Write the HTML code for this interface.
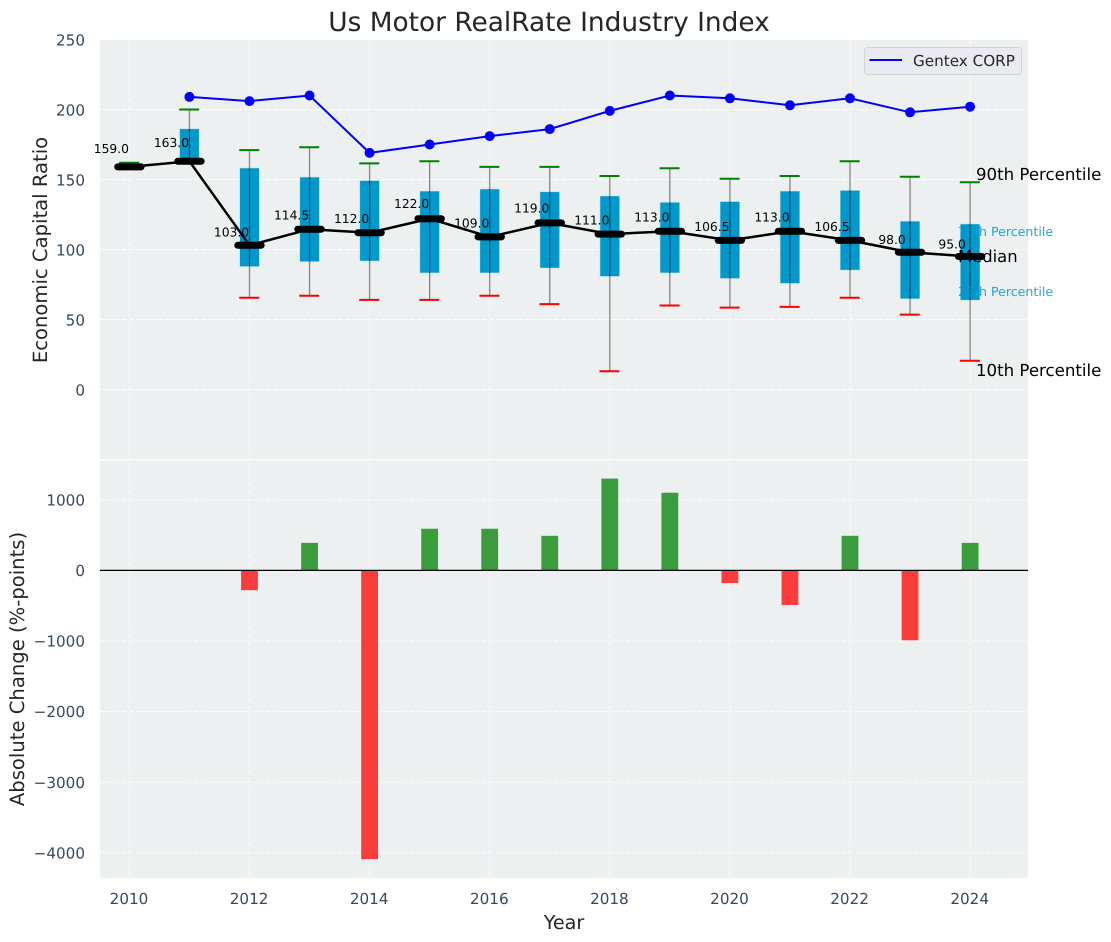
<!DOCTYPE html>
<html lang="en">
<head>
<meta charset="utf-8">
<title>Us Motor RealRate Industry Index</title>
<style>
html,body{margin:0;padding:0;background:#fff;width:1111px;height:942px;overflow:hidden}
svg{display:block;text-rendering:geometricPrecision}
text{font-family:"DejaVu Sans","Liberation Sans",sans-serif}
</style>
</head>
<body>
<svg id="chart" width="1111" height="942" viewBox="0 0 1111 942" xmlns="http://www.w3.org/2000/svg">
  <rect x="100" y="40" width="928" height="419" fill="#ecf0f1"/>
  <rect x="100" y="460.5" width="928" height="417.5" fill="#ecf0f1"/>
  <g id="grid"></g>
  <g id="bars"></g>
  <line x1="100" x2="1028" y1="570.4" y2="570.4" stroke="#000" stroke-width="1.2"/>
  <g id="boxes"></g>
  <g id="series"></g>
  <g id="ticks"></g>
  <g id="values"></g>

  <text x="549" y="31" text-anchor="middle" font-size="26.4px" fill="#262626">Us Motor RealRate Industry Index</text>
  <text transform="translate(47,250) rotate(-90)" text-anchor="middle" font-size="19.6px" fill="#262626">Economic Capital Ratio</text>
  <text transform="translate(24,669) rotate(-90)" text-anchor="middle" font-size="19.6px" fill="#262626">Absolute Change (%-points)</text>
  <text x="564" y="929" text-anchor="middle" font-size="19.2px" fill="#262626">Year</text>

  <g>
    <rect x="864.5" y="47.5" width="157" height="27" rx="3" fill="#eaeaf2" stroke="#d2d3d6" stroke-width="1"/>
    <line x1="869.5" x2="902" y1="60" y2="60" stroke="#0000ff" stroke-width="2"/>
    <text x="913" y="66" font-size="15.2px" fill="#262626">Gentex CORP</text>
  </g>

  <g>
    <text x="976" y="180" font-size="16.6px" fill="#000">90th Percentile</text>
    <text x="958" y="236" font-size="12.6px" fill="#0099cc" opacity="0.85">75th Percentile</text>
    <text x="958" y="262" font-size="16.4px" fill="#000">Median</text>
    <text x="958" y="296" font-size="12.6px" fill="#0099cc" opacity="0.85">25th Percentile</text>
    <text x="976" y="376" font-size="16.6px" fill="#000">10th Percentile</text>
  </g>
</svg>
<script>
const years = [2010,2011,2012,2013,2014,2015,2016,2017,2018,2019,2020,2021,2022,2023,2024];
const p90 = [162,200,171,173,161.5,163,159,159,152.5,158,150.5,152.5,163,152,148];
const p75 = [159,186,158,151.5,149,141.5,143,141,138,133.5,134,141.5,142,120,118];
const medians = [159,163,103,114.5,112,122,109,119,111,113,106.5,113,106.5,98,95];
const p25 = [159,163,88,91.5,92,83.5,83.5,87,81,83.5,79.5,76,85.5,65,64];
const p10 = [159,163,65.5,67,64,64,67,61,13,60,58.5,59,65.5,53.5,20.5];
const companyYears = [2011,2012,2013,2014,2015,2016,2017,2018,2019,2020,2021,2022,2023,2024];
const companyValues = [209,206,210,169,175,181,186,199,210,208,203,208,198,202];
const changeYears = [2012,2013,2014,2015,2016,2017,2018,2019,2020,2021,2022,2023,2024];
const changeValues = [-280,390,-4090,590,590,490,1300,1100,-180,-490,490,-990,390];
const xTickLabels = [2010,2012,2014,2016,2018,2020,2022,2024];
const topTickLabels = [0,50,100,150,200,250];
const bottomTickLabels = [-4000,-3000,-2000,-1000,0,1000];

const NS = 'http://www.w3.org/2000/svg';
const xScale = v => 129.4 + (v - 2010) * 60.05;
const yTop = v => 389.5 - v * 1.4;
const yBottom = v => 570.4 - v * 0.0706;

function add(parent, tag, attrs, content) {
  const el = document.createElementNS(NS, tag);
  for (const k in attrs) el.setAttribute(k, attrs[k]);
  if (content !== undefined) el.textContent = content;
  document.getElementById(parent).appendChild(el);
  return el;
}
const gridStyle = {stroke:'#ffffff','stroke-width':1,'stroke-dasharray':'5 2.2','stroke-opacity':0.85};

xTickLabels.forEach(v => {
  const a = add('grid','line',Object.assign({x1:xScale(v),x2:xScale(v),y1:40,y2:459},gridStyle));
  
  
  const b = add('grid','line',Object.assign({x1:xScale(v),x2:xScale(v),y1:460.5,y2:878},gridStyle));
  
  
  const t = add('ticks','text',{x:xScale(v)-0.4,y:904,'text-anchor':'middle','font-size':'15.2px',fill:'#34495e'},String(v));
  
  
});
topTickLabels.forEach(v => {
  const g = add('grid','line',Object.assign({x1:100,x2:1028,y1:yTop(v),y2:yTop(v)},gridStyle));
  
  
  const t = add('ticks','text',{x:85,y:yTop(v)+5.8,'text-anchor':'end','font-size':'15.2px',fill:'#34495e'},String(v));
  
  
});
bottomTickLabels.forEach(v => {
  const g = add('grid','line',Object.assign({x1:100,x2:1028,y1:yBottom(v),y2:yBottom(v)},gridStyle));
  
  
  const t = add('ticks','text',{x:85,y:yBottom(v)+5.6,'text-anchor':'end','font-size':'15.2px',fill:'#34495e'},String(v).replace('-','\u2212'));
  
  
});

changeYears.forEach((yr,i) => {
  const v = changeValues[i];
  const y0 = yBottom(0), y1 = yBottom(v);
  const r = add('bars','rect',{x:xScale(yr)-8.4,y:Math.min(y0,y1),width:16.8,height:Math.abs(y1-y0),fill:v>=0?'#008000':'#ff0000','fill-opacity':0.75});
  
  
});

years.forEach((yr,i) => {
  const x = xScale(yr);
  const h = yTop(p25[i]) - yTop(p75[i]);
  if (h > 0) {
    const box = add('boxes','rect',{x:x-9.5,y:yTop(p75[i]),width:19,height:h,fill:'#0099cc',stroke:'#0099cc','stroke-opacity':0.25,'stroke-width':1});
    
    
  }
  const w = add('boxes','line',{x1:x,x2:x,y1:yTop(p90[i]),y2:yTop(p10[i]),stroke:'#000','stroke-opacity':0.45,'stroke-width':1.3});
  
  
  const hi = add('boxes','line',{x1:x-10.3,x2:x+9.7,y1:yTop(p90[i]),y2:yTop(p90[i]),stroke:'#008000','stroke-width':2});
  
  
  const lo = add('boxes','line',{x1:x-10.3,x2:x+9.7,y1:yTop(p10[i]),y2:yTop(p10[i]),stroke:'#ff0000','stroke-width':2});
  
  
});

const companyPath = add('series','polyline',{points:companyYears.map((yr,i)=>xScale(yr)+','+yTop(companyValues[i])).join(' '),fill:'none',stroke:'#0000ff','stroke-width':2});


companyYears.forEach((yr,i) => {
  const c = add('series','circle',{cx:xScale(yr),cy:yTop(companyValues[i]),r:5,fill:'#0000ff'});
  
  
});
const medianPath = add('series','polyline',{points:years.map((yr,i)=>xScale(yr)+','+yTop(medians[i])).join(' '),fill:'none',stroke:'#000','stroke-width':2.5});


years.forEach((yr,i) => {
  const x = xScale(yr), y = yTop(medians[i]);
  const m = add('series','line',{x1:x-11.7,x2:x+11.7,y1:y,y2:y,stroke:'#000','stroke-width':7,'stroke-linecap':'round'});
  
  
  const offset = 0.09 * medians[i] + 3.8;
  const t = add('values','text',{x:x-18,y:y-offset+4.2,'text-anchor':'middle','font-size':'12.3px',fill:'#000'},medians[i].toFixed(1));
  
  
});
</script>
</body>
</html>
